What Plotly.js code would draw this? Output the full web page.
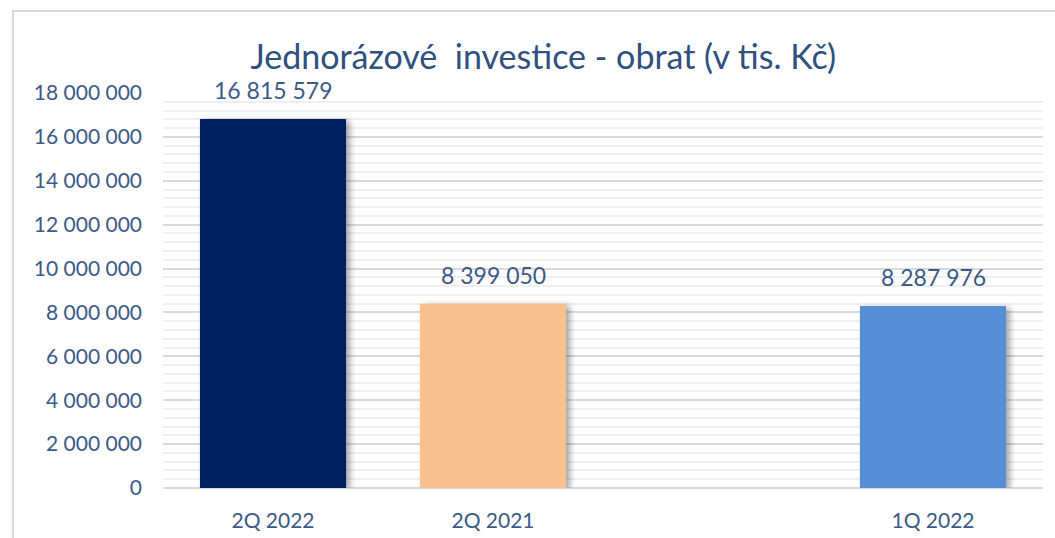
<!DOCTYPE html>
<html>
<head>
<meta charset="utf-8">
<script src="https://cdn.plot.ly/plotly-3.0.1.min.js"></script>
<style>
  html, body { margin: 0; padding: 0; background: #fff; }
  #wrap { position: relative; width: 1055px; height: 538px; overflow: hidden; }
  #frame { position: absolute; left: 12px; top: 10px; width: 1100px; height: 600px;
           border-left: 2px solid #d9d9d9; border-top: 2px solid #d9d9d9; box-sizing: border-box; }
  #chart { position: absolute; left: 0; top: 0; width: 1055px; height: 538px; }
  .bars .point path { filter: drop-shadow(4px 2px 3px rgba(0,0,0,0.35)); }
</style>
</head>
<body>
<div id="wrap">
  <div id="frame"></div>
  <div id="chart"></div>
</div>
<script>
const categories = ["2Q 2022", "2Q 2021", " ", "1Q 2022"];
const values = [16815579, 8399050, null, 8287976];
const barColors = ["#002060", "#F8C08F", "#FFFFFF", "#558ED5"];
const titleText = "Jednorázové&nbsp; investice - obrat (v tis. Kč)";

const textColor = "#3B5A87";
const font = "Lato, 'Open Sans', sans-serif";

function fmt(v) {
  return String(Math.round(v)).replace(/\B(?=(\d{3})+(?!\d))/g, " ");
}

const trace = {
  type: "bar",
  x: categories,
  y: values,
  marker: { color: barColors },
  hoverinfo: "skip"
};

const annotations = categories
  .map((c, i) => ({ c, v: values[i] }))
  .filter(d => d.v !== null)
  .map(d => ({
    x: d.c, y: d.v, xref: "x", yref: "y",
    text: fmt(d.v), showarrow: false,
    yanchor: "bottom", yshift: 13,
    font: { family: font, size: 23, color: textColor }
  }));

const layout = {
  width: 1055,
  height: 538,
  paper_bgcolor: "rgba(0,0,0,0)",
  plot_bgcolor: "rgba(0,0,0,0)",
  margin: { l: 163, r: 12, t: 93, b: 50, pad: 0 },
  separators: ", ",
  bargap: 0.336,
  showlegend: false,
  annotations: annotations,
  title: {
    text: titleText,
    font: { family: font, size: 34, color: "#2F5080" },
    x: 0.515, xanchor: "center",
    y: 0.893, yanchor: "middle"
  },
  xaxis: {
    type: "category",
    showgrid: false,
    showline: false,
    zeroline: false,
    ticks: "",
    ticklabelstandoff: 18,
    tickfont: { family: font, size: 21, color: textColor },
    fixedrange: true
  },
  yaxis: {
    range: [0, 18000000],
    dtick: 2000000,
    tickformat: ",d",
    tickfont: { family: font, size: 21, color: textColor },
    ticklabelstandoff: 20,
    showgrid: true,
    gridcolor: "#D9D9D9",
    gridwidth: 2,
    zeroline: true,
    zerolinecolor: "#D9D9D9",
    zerolinewidth: 2,
    showline: false,
    minor: { dtick: 400000, showgrid: true, gridcolor: "#EFEFEF", gridwidth: 2 },
    fixedrange: true
  }
};

Plotly.newPlot("chart", [trace], layout, { displayModeBar: false, staticPlot: true });
</script>
</body>
</html>
